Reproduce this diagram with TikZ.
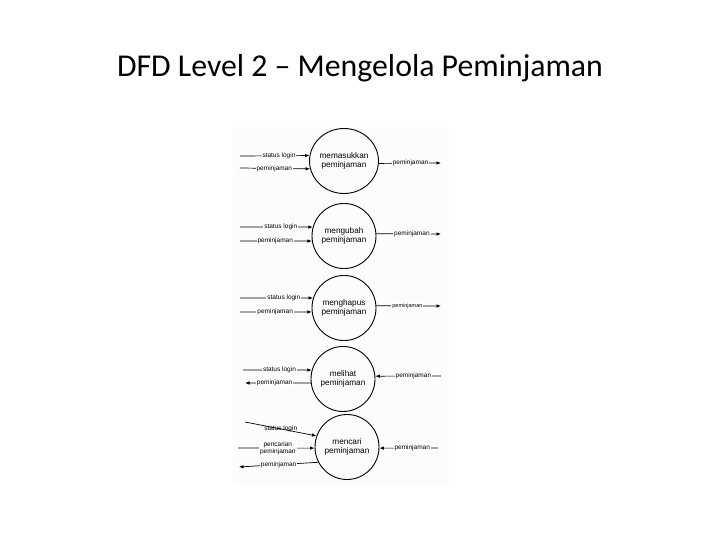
\documentclass[tikz,border=0pt]{standalone}
\usepackage{fontspec}
\setmainfont{Carlito}
\newfontfamily\lblfont{Liberation Sans}
\usetikzlibrary{arrows.meta,shapes.geometric}
\tikzset{
  proc/.style={ellipse, draw=black, line width=0.9pt, inner sep=0pt,
    minimum width=64pt, minimum height=65pt, align=center,
    font=\lblfont\fontsize{8.2}{9}\selectfont},
  flow/.style={draw=black, line width=0.7pt, -{Latex[length=4.5pt,width=3.5pt]}},
  lbl/.style={fill=white, inner sep=1pt, font=\lblfont\fontsize{6.5}{7}\selectfont, align=center},
  titletext/.style={font=\fontsize{31.8}{36}\selectfont, anchor=base}
}
\begin{document}
\begin{tikzpicture}[x=1pt,y=-1pt]
\useasboundingbox (0,0) rectangle (720,540);
\fill[black!1.2] (233,127) rectangle (449,485);
\node[titletext] (title) at (360,77) {DFD Level 2 – Mengelola Peminjaman};

% processes
\node[proc] (c1) at (344,161) {memasukkan\\peminjaman};
\node[proc] (c2) at (344,236) {mengubah\\peminjaman};
\node[proc] (c3) at (344,308) {menghapus\\peminjaman};
\node[proc] (c4) at (343,379) {melihat\\peminjaman};
\node[proc] (c5) at (347,447) {mencari\\peminjaman};

% free ends
\coordinate (a1) at (240,156);
\coordinate (b1) at (240,168);
\coordinate (o1) at (441,163);
\coordinate (a2) at (240,227);
\coordinate (b2) at (240,241);
\coordinate (o2) at (441,234);
\coordinate (a3) at (240,298);
\coordinate (b3) at (240,312);
\coordinate (o3) at (441,306);
\coordinate (a4) at (243,370);
\coordinate (b4) at (245,383);
\coordinate (o4) at (441,376);
\coordinate (a5) at (245,422);
\coordinate (b5) at (238,448);
\coordinate (d5) at (239,467);
\coordinate (o5) at (438,448);

% process 1
\draw[flow] (a1) -- node[lbl,pos=0.56] {status login} (c1.171);
\draw[flow] (b1) -- node[lbl,pos=0.49] {peminjaman} (c1.193);
\draw[flow] (c1.356) -- node[lbl,pos=0.51] {peminjaman} (o1);
% process 2
\draw[flow] (a2) -- node[lbl,pos=0.56] {status login} (c2.164);
\draw[flow] (b2) -- node[lbl,pos=0.49] {peminjaman} (c2.189);
\draw[flow] (c2.4) -- node[lbl,pos=0.55] {peminjaman} (o2);
% process 3
\draw[flow] (a3) -- node[lbl,pos=0.6] {status login} (c3.162);
\draw[flow] (b3) -- node[lbl,pos=0.49] {peminjaman} (c3.187);
\draw[flow] (c3.4) -- node[lbl,pos=0.48,font=\lblfont\fontsize{5.5}{6}\selectfont] {peminjaman} (o3);
% process 4
\draw[flow] (a4) -- node[lbl,pos=0.53] {status login} (c4.164);
\draw[flow] (c4.187) -- node[lbl,pos=0.55] {peminjaman} (b4);
\draw[flow] (o4) -- node[lbl,pos=0.42] {peminjaman} (c4.5);
% process 5
\draw[flow] (a5) -- node[lbl,pos=0.5,fill=none] {status login} (c5.160);
\draw[flow] (b5) -- node[lbl,pos=0.52] {pencarian\\peminjaman} (c5.182);
\draw[flow] (c5.208) -- node[lbl,pos=0.5] {peminjaman} (d5);
\draw[flow] (o5) -- node[lbl,pos=0.44] {peminjaman} (c5.358);
\end{tikzpicture}
\end{document}
